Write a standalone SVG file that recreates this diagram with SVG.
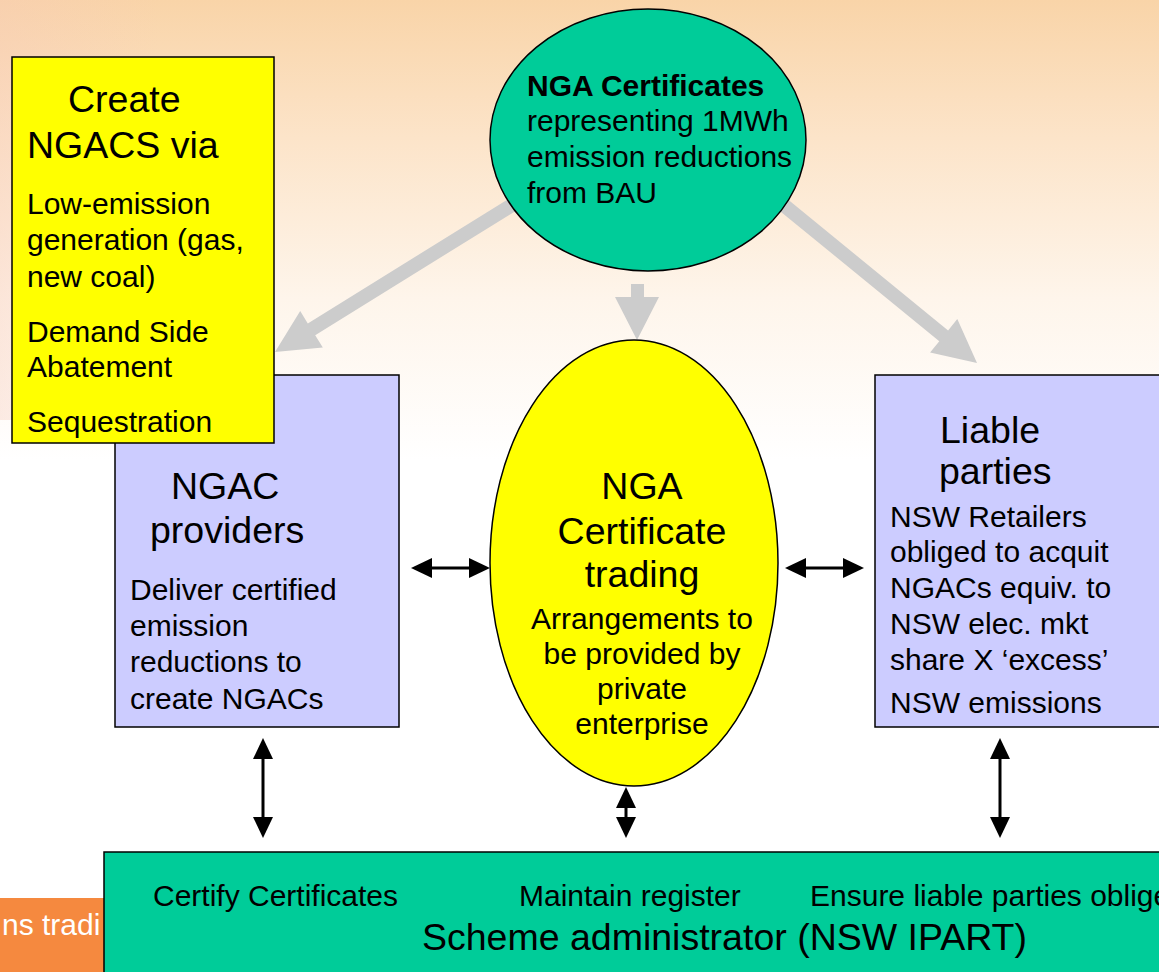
<svg xmlns="http://www.w3.org/2000/svg" width="1159" height="972" viewBox="0 0 1159 972">
<defs>
<linearGradient id="bg" x1="0" y1="0" x2="0" y2="460" gradientUnits="userSpaceOnUse">
<stop offset="0" stop-color="#F9D4A8"/>
<stop offset="0.3" stop-color="#FCE4C9"/>
<stop offset="0.65" stop-color="#FEF5EB"/>
<stop offset="1" stop-color="#FFFFFF"/>
</linearGradient>
<linearGradient id="bgl" x1="0" y1="0" x2="160" y2="0" gradientUnits="userSpaceOnUse">
<stop offset="0" stop-color="#F7C9B8" stop-opacity="0.35"/>
<stop offset="1" stop-color="#F7C9B8" stop-opacity="0"/>
</linearGradient>
<marker id="ah" markerUnits="userSpaceOnUse" markerWidth="22" markerHeight="20" refX="11" refY="10" orient="auto-start-reverse">
<path d="M0,0 L21,10 L0,20 z" fill="#000"/>
</marker>
<style>
text{font-family:"Liberation Sans",Arial,sans-serif;fill:#000}
.s{font-size:30px}
.b{font-size:37.5px}
.bold{font-weight:bold}
.shape{stroke:#000;stroke-width:1.5}
.grey{fill:#CCCCCC;stroke:none}
.dbl{stroke:#000;stroke-width:3;fill:none;marker-start:url(#ah);marker-end:url(#ah)}
</style>
</defs>
<rect x="0" y="0" width="1159" height="972" fill="url(#bg)"/>
<rect x="0" y="0" width="160" height="420" fill="url(#bgl)"/>
<g id="footer-label">
<rect x="0" y="898" width="110" height="74" fill="#F5893F"/>
<text x="2" y="935" class="s" style="fill:#FFFFFF">ns tradi</text>
</g>
<g id="connectors">
<polygon class="grey" points="516.3,194.1 307.8,323.4 300.2,311.0 275,352 322.8,347.6 315.2,335.2 523.7,205.9"/>
<polygon class="grey" points="779.4,192.6 948.1,330.4 957.3,319.1 977,363 930.1,352.4 939.3,341.2 770.6,203.4"/>
<polygon class="grey" points="631,284 644,284 644,297 659,297 637,340 615,297 631,297"/>
<line class="dbl" x1="421" y1="568" x2="480" y2="568"/>
<line class="dbl" x1="795" y1="568" x2="854" y2="568"/>
<line class="dbl" x1="263" y1="748" x2="263" y2="828"/>
<line class="dbl" x1="626" y1="797" x2="626" y2="828"/>
<line class="dbl" x1="1000" y1="748" x2="1000" y2="828"/>
</g>
<g id="nga-certificates">
<ellipse class="shape" cx="648" cy="140" rx="158" ry="131" fill="#00CC99"/>
<text x="527" y="96" class="s bold">NGA Certificates</text>
<text x="527" y="131" class="s">representing 1MWh</text>
<text x="527" y="167" class="s">emission reductions</text>
<text x="527" y="203" class="s">from BAU</text>
</g>
<g id="ngac-providers">
<rect class="shape" x="115" y="375" width="284" height="352" fill="#CCCCFF"/>
<text x="171" y="499" class="b">NGAC</text>
<text x="150" y="543" class="b">providers</text>
<text x="130" y="600" class="s">Deliver certified</text>
<text x="130" y="636" class="s">emission</text>
<text x="130" y="672" class="s">reductions to</text>
<text x="130" y="709" class="s">create NGACs</text>
</g>
<g id="create-ngacs">
<rect class="shape" x="12" y="57" width="262" height="386" fill="#FFFF00"/>
<text x="68" y="112" class="b">Create</text>
<text x="27" y="158" class="b">NGACS via</text>
<text x="27" y="214" class="s">Low-emission</text>
<text x="27" y="250" class="s">generation (gas,</text>
<text x="27" y="287" class="s">new coal)</text>
<text x="27" y="342" class="s">Demand Side</text>
<text x="27" y="377" class="s">Abatement</text>
<text x="27" y="432" class="s">Sequestration</text>
</g>
<g id="certificate-trading">
<ellipse class="shape" cx="634" cy="563" rx="144" ry="223" fill="#FFFF00"/>
<text x="642" y="499" class="b" text-anchor="middle">NGA</text>
<text x="642" y="544" class="b" text-anchor="middle">Certificate</text>
<text x="642" y="587" class="b" text-anchor="middle">trading</text>
<text x="642" y="629" class="s" text-anchor="middle">Arrangements to</text>
<text x="642" y="664" class="s" text-anchor="middle">be provided by</text>
<text x="642" y="699" class="s" text-anchor="middle">private</text>
<text x="642" y="734" class="s" text-anchor="middle">enterprise</text>
</g>
<g id="liable-parties">
<rect class="shape" x="875" y="375" width="300" height="352" fill="#CCCCFF"/>
<text x="940" y="443" class="b">Liable</text>
<text x="939" y="484" class="b">parties</text>
<text x="890" y="527" class="s">NSW Retailers</text>
<text x="890" y="562" class="s">obliged to acquit</text>
<text x="890" y="598" class="s">NGACs equiv. to</text>
<text x="890" y="634" class="s">NSW elec. mkt</text>
<text x="890" y="670" class="s">share X ‘excess’</text>
<text x="890" y="713" class="s">NSW emissions</text>
</g>
<g id="scheme-administrator">
<rect class="shape" x="104" y="852" width="1070" height="130" fill="#00CC99"/>
<text x="153" y="906" class="s">Certify Certificates</text>
<text x="519" y="906" class="s">Maintain register</text>
<text x="810" y="906" class="s">Ensure liable parties oblige</text>
<text x="422" y="950" class="b">Scheme administrator (NSW IPART)</text>
</g>
</svg>
